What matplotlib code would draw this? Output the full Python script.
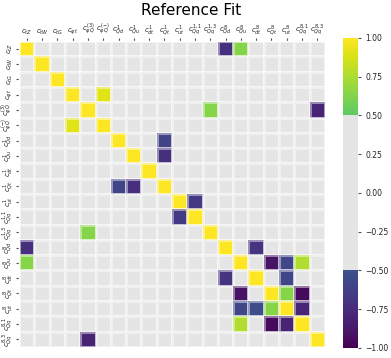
import numpy as np
import matplotlib
matplotlib.use("Agg")
import matplotlib.pyplot as plt
from matplotlib.colors import ListedColormap

plt.style.use("ggplot")

# operator names
labels = [r"$c_{tZ}$", r"$c_{tW}$", r"$c_{tG}$", r"$c_{\varphi t}$",
          r"$c_{\varphi Q}^{(3)}$", r"$c_{\varphi Q}^{(-)}$",
          r"$c_{Qd}^{1}$", r"$c_{Qu}^{1}$", r"$c_{dt}^{1}$", r"$c_{Qt}^{1}$",
          r"$c_{ut}^{1}$", r"$c_{Qq}^{1,1}$", r"$c_{Qq}^{1,3}$",
          r"$c_{Qd}^{8}$", r"$c_{Qu}^{8}$", r"$c_{dt}^{8}$", r"$c_{Qt}^{8}$",
          r"$c_{ut}^{8}$", r"$c_{Qq}^{8,1}$", r"$c_{Qq}^{8,3}$"]

# off-diagonal correlations (row, col, value)
rows = [0, 0, 3, 4, 4, 5, 6, 7, 9, 9, 10, 11, 12, 13, 13, 14, 14, 14, 14,
        15, 15, 16, 16, 16, 17, 17, 17, 17, 18, 18, 18, 19]
cols = [13, 14, 5, 12, 19, 3, 9, 9, 6, 7, 11, 10, 4, 0, 15, 0, 16, 17, 18,
        13, 17, 14, 17, 18, 14, 15, 16, 18, 14, 16, 17, 4]
vals = [-0.72, 0.64, 0.9, 0.64, -0.8, 0.9, -0.6, -0.72, -0.6, -0.72, -0.66,
        -0.66, 0.64, -0.72, -0.7, 0.64, -0.9, -0.58, 0.76,
        -0.7, -0.58, -0.9, 0.64, -0.95, -0.58, -0.53, 0.64, -0.8,
        0.76, -0.95, -0.8, -0.8]

n = len(labels)
corr = np.eye(n)
for r, c, v in zip(rows, cols, vals):
    corr[r, c] = v

# viridis with |x| < 0.5 greyed out
cols_v = plt.cm.viridis(np.linspace(0, 1, 256))
cols_v[64:192] = [0.898, 0.898, 0.898, 1.0]
cmap = ListedColormap(cols_v)

fig = plt.figure(figsize=(3.91, 3.58), dpi=100)
ax = fig.add_axes([0.049, 0.031, 0.782, 0.854])
cax = fig.add_axes([0.877, 0.028, 0.038, 0.866])

m = ax.pcolormesh(np.arange(n + 1), np.arange(n + 1), corr, cmap=cmap,
                  vmin=-1, vmax=1, edgecolors=(1, 1, 1, 0.45), linewidth=0.8)
ax.set_xlim(0, n)
ax.set_ylim(n, 0)
ax.grid(False)
ax.set_aspect("equal")
ax.xaxis.tick_top()
ax.set_xticks(np.arange(n) + 0.5)
ax.set_yticks(np.arange(n) + 0.5)
ax.set_xticklabels(labels, fontsize=5)
ax.set_yticklabels(labels, fontsize=5, rotation=90, va="center")
ax.tick_params(length=2, pad=1, labelcolor="#222222")
fig.text(0.49, 0.972, "Reference Fit", fontsize=11, ha="center", va="center")

cb = fig.colorbar(m, cax=cax, ticks=np.arange(-1, 1.01, 0.25))
cb.ax.tick_params(labelsize=5.5, length=2, labelcolor="#222222")
cb.outline.set_visible(False)

fig.savefig("out.png", dpi=100)
